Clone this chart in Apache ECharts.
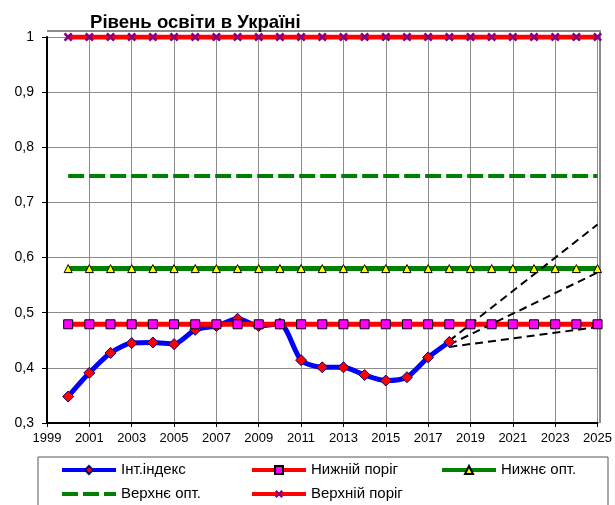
<!DOCTYPE html>
<html>
<head>
<meta charset="utf-8">
<script src="https://cdn.jsdelivr.net/npm/echarts@6/dist/echarts.min.js"></script>
<style>
html,body{margin:0;padding:0;background:#fff;}
#c{width:615px;height:505px;}
</style>
</head>
<body>
<div id="c"></div>
<script>
// ---- data ----
var titleText = 'Рівень освіти в Україні';
var years = [2000,2001,2002,2003,2004,2005,2006,2007,2008,2009,2010,2011,2012,2013,2014,2015,2016,2017,2018,2019,2020,2021,2022,2023,2024,2025];
var indexYears = [2000,2001,2002,2003,2004,2005,2006,2007,2008,2009,2010,2011,2012,2013,2014,2015,2016,2017,2018];
var intIndex = [0.348,0.391,0.427,0.445,0.446,0.443,0.469,0.476,0.489,0.476,0.480,0.414,0.401,0.401,0.387,0.377,0.383,0.419,0.447];
var lowerThreshold = 0.479;
var lowerOpt = 0.580;
var upperOpt = 0.748;
var upperThreshold = 1.0;
var forecastYears = [2018, 2025];
var forecastHigh = [0.449, 0.660];
var forecastMid = [0.442, 0.573];
var forecastLow = [0.438, 0.474];
var seriesNames = ['Інт.індекс','Нижній поріг','Нижнє опт.','Верхнє опт.','Верхній поріг'];
var xTickYears = [1999,2001,2003,2005,2007,2009,2011,2013,2015,2017,2019,2021,2023,2025];
var yTickValues = [0.3,0.4,0.5,0.6,0.7,0.8,0.9,1];
var yTickLabels = ['0,3','0,4','0,5','0,6','0,7','0,8','0,9','1'];

function pairs(xs, ys){ return xs.map(function(x,i){ return [x, ys[i]]; }); }
function constant(xs, v){ return xs.map(function(x){ return [x, v]; }); }

var xMark = 'path://M0,2 L2,0 L5,3 L8,0 L10,2 L7,5 L10,8 L8,10 L5,7 L2,10 L0,8 L3,5 Z';

var chart = echarts.init(document.getElementById('c'), null, {renderer:'canvas'});
var font = 'Liberation Sans, Arial, sans-serif';
var legendText = {fontFamily: font, fontSize: 15, lineHeight: 16, color: '#000'};
var legendCommon = {orient: 'vertical', top: 462, padding: 0, itemWidth: 54, itemHeight: 10, itemGap: 8,
  textStyle: legendText, lineStyle: {width: 4}};

var option = {
  backgroundColor: '#fff',
  animation: false,
  textStyle: {fontFamily: font},
  title: {
    text: titleText,
    left: 90, top: 13, padding: 0,
    textStyle: {fontFamily: font, fontSize: 18.6, fontWeight: 'bold', color: '#000'}
  },
  grid: {left: 47, right: 15, top: 37, bottom: 82, containLabel: false},
  xAxis: {
    type: 'value', min: 1999, max: 2025, interval: 2,
    axisLine: {show: true, lineStyle: {color: '#000', width: 2}},
    axisTick: {show: true, length: 4, lineStyle: {color: '#000'}},
    axisLabel: {
      color: '#000', fontSize: 13, fontFamily: font, margin: 9,
      formatter: function(v){ return xTickYears.indexOf(v) >= 0 ? String(v) : ''; }
    },
    splitLine: {show: true, lineStyle: {color: '#8c8c8c', width: 1}}
  },
  yAxis: {
    type: 'value', min: 0.3, max: 1, interval: 0.1,
    axisLine: {show: true, lineStyle: {color: '#000', width: 2}},
    axisTick: {show: true, length: 5, lineStyle: {color: '#000'}},
    axisLabel: {
      color: '#000', fontSize: 14, fontFamily: font, margin: 13,
      formatter: function(v){
        for (var i = 0; i < yTickValues.length; i++) {
          if (Math.abs(yTickValues[i] - v) < 1e-6) return yTickLabels[i];
        }
        return '';
      }
    },
    splitLine: {show: true, lineStyle: {color: '#8c8c8c', width: 1}}
  },
  legend: [
    Object.assign({}, legendCommon, {left: 60,
      data: [seriesNames[0], {name: seriesNames[3], itemStyle: {opacity: 0}}]}),
    Object.assign({}, legendCommon, {left: 250, data: [seriesNames[1], seriesNames[4]]}),
    Object.assign({}, legendCommon, {left: 440, data: [seriesNames[2]]})
  ],
  graphic: [
    {type: 'rect', shape: {x: 38, y: 457, width: 570, height: 60}, style: {fill: 'none', stroke: '#555', lineWidth: 1}, silent: true, z: -1},
    {type: 'polyline', shape: {points: [[47, 31], [600, 31], [600, 423]]}, style: {fill: 'none', stroke: '#8c8c8c', lineWidth: 2}, silent: true, z: 1}
  ],
  series: [
    {
      name: seriesNames[0], type: 'line', data: pairs(indexYears, intIndex),
      smooth: 0.25, symbol: 'diamond', symbolSize: 11,
      lineStyle: {color: '#0000ff', width: 5},
      itemStyle: {color: '#ff0000', borderColor: '#000080', borderWidth: 1}
    },
    {
      name: seriesNames[1], type: 'line', data: constant(years, lowerThreshold),
      symbol: 'rect', symbolSize: 9,
      lineStyle: {color: '#ff0000', width: 5},
      itemStyle: {color: '#ff00ff', borderColor: '#000', borderWidth: 1}
    },
    {
      name: seriesNames[2], type: 'line', data: constant(years, lowerOpt),
      symbol: 'triangle', symbolSize: [8, 8],
      lineStyle: {color: '#008000', width: 5},
      itemStyle: {color: '#ffff00', borderColor: '#000', borderWidth: 1}
    },
    {
      name: seriesNames[3], type: 'line', data: constant(years, upperOpt),
      symbol: 'none',
      lineStyle: {color: '#008000', width: 4, type: [16, 5]},
      itemStyle: {color: '#008000'}
    },
    {
      name: seriesNames[4], type: 'line', data: constant(years, upperThreshold),
      symbol: xMark, symbolSize: 9,
      lineStyle: {color: '#ff0000', width: 5},
      itemStyle: {color: '#800080', borderWidth: 0}
    },
    {
      name: 'f1', type: 'line', data: pairs(forecastYears, forecastHigh), symbol: 'none',
      lineStyle: {color: '#000', width: 2, type: [8, 5]}, z: 3
    },
    {
      name: 'f2', type: 'line', data: pairs(forecastYears, forecastMid), symbol: 'none',
      lineStyle: {color: '#000', width: 2, type: [8, 5]}, z: 3
    },
    {
      name: 'f3', type: 'line', data: pairs(forecastYears, forecastLow), symbol: 'none',
      lineStyle: {color: '#000', width: 2, type: [8, 5]}, z: 3
    }
  ]
};
chart.setOption(option);
</script>
</body>
</html>
